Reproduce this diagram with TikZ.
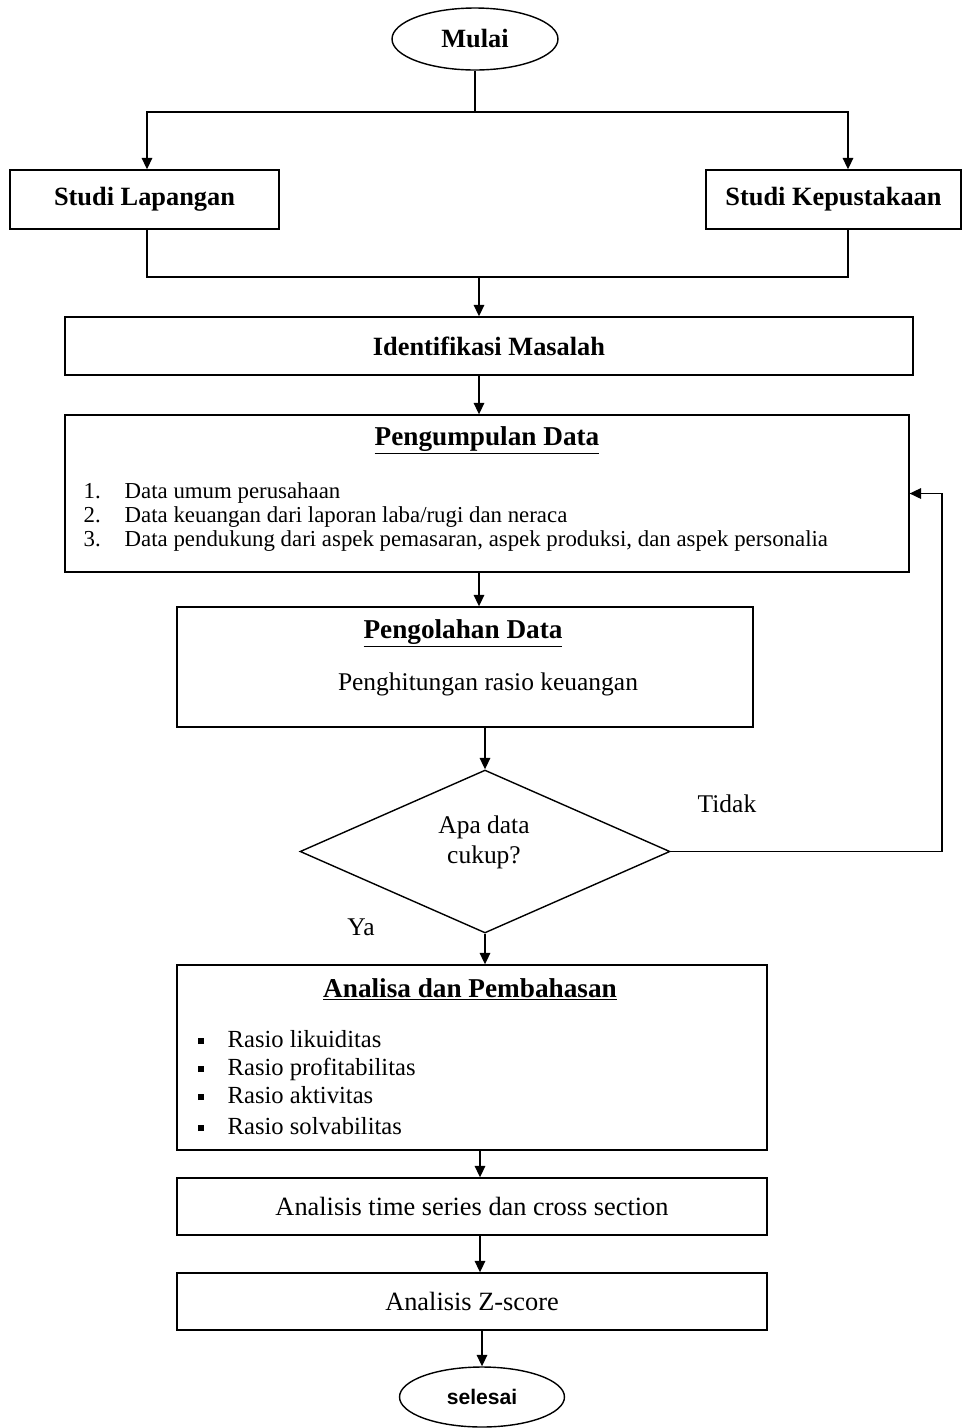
\documentclass[tikz,border=0pt]{standalone}
\usepackage{fontspec}
\setmainfont{Liberation Serif}
\newfontfamily\selesaifont{Liberation Sans}
\usetikzlibrary{shapes.geometric,arrows.meta}

\begin{document}
\begin{tikzpicture} [
                x=0.02cm, y=-0.02cm,
                line width=0.8pt,
                terminal/.style={ellipse,draw,inner sep=0pt,font=\fontsize{15}{18}\selectfont\bfseries},
                box/.style={rectangle,draw,inner sep=0pt},
                judul/.style={anchor=base,inner sep=0pt,font=\fontsize{15.5}{18}\selectfont\bfseries},
                isi/.style={anchor=base west,inner sep=0pt,font=\fontsize{13}{15}\selectfont},
                rasio/.style={anchor=base west,inner sep=0pt,font=\fontsize{14}{16}\selectfont},
                teks/.style={anchor=base,inner sep=0pt,font=\fontsize{14.5}{17}\selectfont},
                arr/.style={draw,-{Triangle[width=6pt,length=6.5pt]}},
            ]
            \useasboundingbox (0,0) rectangle (962,1428);

            % terminals
            \node[terminal,minimum width=3.32cm,minimum height=1.24cm] (mulai) at (475,39) {Mulai};
            \node[terminal,minimum width=3.3cm,minimum height=1.2cm,
                font=\selesaifont\fontsize{12}{14}\selectfont\bfseries] (selesai) at (482,1397) {selesai};

            % boxes
            \node[box,minimum width=5.38cm,minimum height=1.18cm,font=\fontsize{15}{18}\selectfont\bfseries]
                (lapangan) at (144.5,199.5) {Studi Lapangan};
            \node[box,minimum width=5.1cm,minimum height=1.18cm,font=\fontsize{15}{18}\selectfont\bfseries]
                (kepustakaan) at (833.5,199.5) {Studi Kepustakaan};
            \node[box,minimum width=16.96cm,minimum height=1.16cm,font=\fontsize{15}{18}\selectfont\bfseries]
                (identifikasi) at (489,346) {Identifikasi Masalah};
            \foreach \pos/\w/\h/\name in {
            {(487,493.5)/16.88/3.14/pengumpulan}, {(465,667)/11.52/2.4/pengolahan},
            {(472,1057.5)/11.8/3.7/analisa}}
                \node[box,minimum width=\w cm,minimum height=\h cm] (\name) at \pos {};
            \node[box,minimum width=11.8cm,minimum height=1.14cm,font=\fontsize{15}{18}\selectfont]
                (timeseries) at (472,1206.5) {Analisis time series dan cross section};
            \node[box,minimum width=11.8cm,minimum height=1.14cm,font=\fontsize{15}{18}\selectfont]
                (zscore) at (472,1301.5) {Analisis Z-score};
            \node[diamond,draw,inner sep=0pt,minimum width=7.4cm,minimum height=3.26cm]
                (keputusan) at (485,851.5) {};

            % box contents
            \node[judul] (judul1) at (487,445) {\underline{Pengumpulan Data}};
            \foreach \y/\n/\txt [count=\k] in {
            498/1./{Data umum perusahaan},
            522/2./{Data keuangan dari laporan laba/rugi dan neraca},
            546/3./{Data pendukung dari aspek pemasaran, aspek produksi, dan aspek personalia}} {
                \node[isi] (nomor\k) at (83,\y) {\n};
                \node[isi] (data\k) at (124,\y) {\txt};
            }
            \node[judul] (judul2) at (463,638) {\underline{Pengolahan Data}};
            \node[teks] (hitung) at (488,690) {Penghitungan rasio keuangan};
            \node[teks] (tanya1) at (484,833) {Apa data};
            \node[teks] (tanya2) at (484,863) {cukup?};
            \node[teks] (tidak) at (727,812) {Tidak};
            \node[teks] (ya) at (361,935) {Ya};
            \node[judul] (judul3) at (470,997) {\underline{Analisa dan Pembahasan}};
            \foreach \y/\txt [count=\k] in {
            1047/{Rasio likuiditas}, 1075/{Rasio profitabilitas},
            1103/{Rasio aktivitas}, 1134/{Rasio solvabilitas}} {
                \node[anchor=base west,inner sep=0pt] (titik\k) at (197,\y) {\rule[1.7pt]{3.4pt}{3.4pt}};
                \node[rasio] (rasio\k) at (227,\y) {\txt};
            }

            % connectors
            \coordinate (cabang) at (475,112);
            \coordinate (gabung) at (479,277);
            \coordinate (balik) at (942,852);
            \draw (mulai.south) -- (cabang);
            \path[arr] (cabang) -| (147,0 |- lapangan.north);
            \path[arr] (cabang) -| (848,0 |- kepustakaan.north);
            \draw (147,0 |- lapangan.south) |- (gabung) -| (848,0 |- kepustakaan.south);
            \path[arr] (gabung) -- (gabung |- identifikasi.north);
            \foreach \dari/\ke/\x in {
                    identifikasi/pengumpulan/479, pengumpulan/pengolahan/479,
                    analisa/timeseries/480, timeseries/zscore/480, zscore/selesai/482}
                \path[arr] (\x,0 |- \dari.south) -- (\x,0 |- \ke.north);
            \path[arr] (keputusan.north |- pengolahan.south) -- (keputusan.north);
            \path[arr] (keputusan.south) -- (keputusan.south |- analisa.north);
            \path[arr] (keputusan.east) -- (keputusan.east -| balik) |- (pengumpulan.east);
        \end{tikzpicture}
\end{document}
